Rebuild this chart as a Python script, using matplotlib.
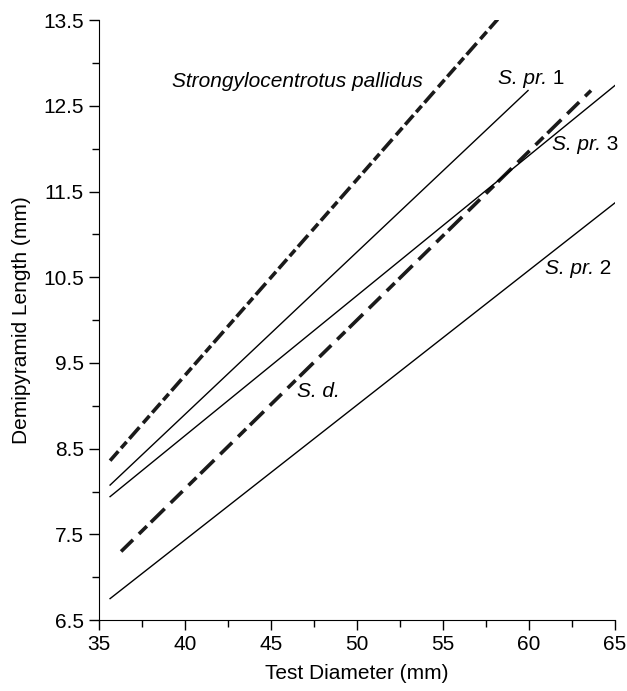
import matplotlib
matplotlib.use("Agg")
import matplotlib.pyplot as plt
import numpy as np
from matplotlib.ticker import MultipleLocator

plt.rcParams['font.family'] = ['Liberation Sans', 'DejaVu Sans']
plt.rcParams['lines.scale_dashes'] = False

# regression lines: (x start, x end), (y start, y end)
pallidus_x = [35.64, 58.3]
pallidus_y = [8.36, 13.54]
spr1_x = [35.64, 59.94]
spr1_y = [8.075, 12.68]
spr3_x = [35.64, 65.0]
spr3_y = [7.94, 12.74]
sd_x = [36.28, 63.6]
sd_y = [7.30, 12.68]
spr2_x = [35.64, 65.0]
spr2_y = [6.75, 11.37]

fs = 15

fig = plt.figure(figsize=(6.27, 6.91), dpi=100)
ax = fig.add_axes([0.158, 0.1027, 0.823, 0.868])

ax.plot(pallidus_x, pallidus_y, color='#1a1a1a', lw=2.6,
        ls=(0, (9, 3, 6, 3, 11, 4, 7, 3)), dash_capstyle='butt')
ax.plot(sd_x, sd_y, color='#1a1a1a', lw=2.6,
        ls=(0, (12, 6, 8, 4, 14, 6)), dash_capstyle='butt')
ax.plot(spr1_x, spr1_y, color='black', lw=1.0)
ax.plot(spr3_x, spr3_y, color='black', lw=1.0)
ax.plot(spr2_x, spr2_y, color='black', lw=1.0)

ax.set_xlim(35, 65)
ax.set_ylim(6.5, 13.5)

renderer = fig.canvas.get_renderer()


def label(x, y, it, num=''):
    t = ax.text(x, y, it, style='italic', fontsize=fs, va='baseline', ha='left')
    if num:
        bb = t.get_window_extent(renderer)
        xr = ax.transData.inverted().transform((bb.x1, 0))[0]
        ax.text(xr, y, ' ' + num, fontsize=fs, va='baseline', ha='left')


label(39.24, 12.72, 'Strongylocentrotus pallidus')
label(58.2, 12.76, 'S. pr.', '1')
label(61.34, 11.99, 'S. pr.', '3')
label(60.93, 10.54, 'S. pr.', '2')
label(46.51, 9.10, 'S. d.')

ax.xaxis.set_major_locator(MultipleLocator(5))
ax.xaxis.set_minor_locator(MultipleLocator(2.5))
ax.set_yticks(np.arange(6.5, 13.6, 1.0))
ax.set_yticks(np.arange(7.0, 13.1, 1.0), minor=True)
ax.set_yticklabels(['6.5', '7.5', '8.5', '9.5', '10.5', '11.5', '12.5', '13.5'])

ax.spines['top'].set_visible(False)
ax.spines['right'].set_visible(False)
ax.tick_params(which='major', direction='out', length=7, width=1, labelsize=fs, pad=4)
ax.tick_params(which='minor', direction='out', length=5, width=1)

ax.set_xlabel('Test Diameter (mm)', fontsize=fs, labelpad=7)
ax.set_ylabel('Demipyramid Length (mm)', fontsize=fs, labelpad=9)

fig.savefig('out.png', dpi=100)
